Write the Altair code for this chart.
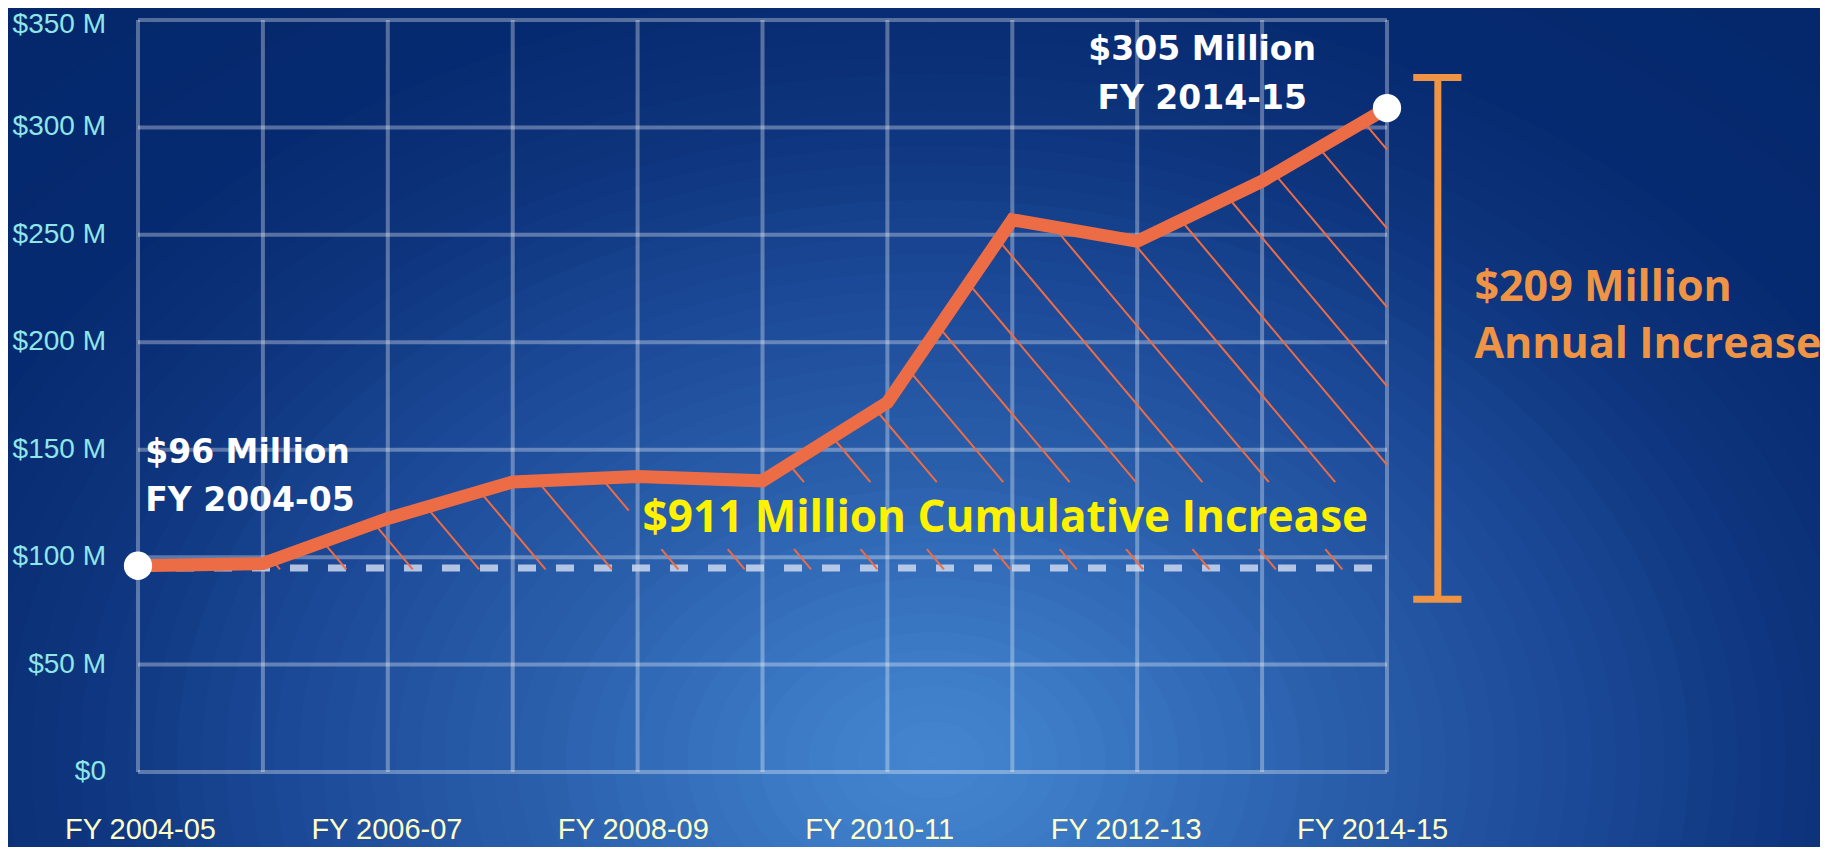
import altair as alt
import pandas as pd
import numpy as np

# ---------------- data ----------------
years = ["FY 2004-05", "FY 2005-06", "FY 2006-07", "FY 2007-08", "FY 2008-09",
         "FY 2009-10", "FY 2010-11", "FY 2011-12", "FY 2012-13", "FY 2013-14",
         "FY 2014-15"]
funding = [96, 97, 118, 135, 137.5, 135.5, 172, 257, 247, 275, 309]   # $ millions
baseline_value = 95            # FY 2004-05 level (dashed reference)
y_ticks = [0, 50, 100, 150, 200, 250, 300, 350]
x_label_ticks = [0, 2, 4, 6, 8, 10]

start_label = ["$96 Million", "FY 2004-05"]
end_label = ["$305 Million", "FY 2014-15"]
cumulative_label = "$911 Million Cumulative Increase"
annual_label = ["$209 Million", "Annual Increase"]
annual_bar = [80.4, 323.2]       # extent of the bracket (value units)

# hatch style (in data units)
HATCH_FOOT0 = 4.326
HATCH_STEP = 0.5316
HATCH_SLOPE = 69.0
HATCH_BASE = 94.3
KNOCK_X = 3.93
KNOCK_Y = [103.7, 134.9]

W, H = 1249, 752
PAD = {"left": 130, "top": 12, "right": 433, "bottom": 75}

idx = list(range(len(years)))
vals = np.array(funding, dtype=float)
n = len(idx) - 1
df = pd.DataFrame({"i": idx, "year": years, "value": funding})

xs = alt.Scale(domain=[0, n], nice=False, zero=False)
ys = alt.Scale(domain=[0, 350], nice=False)

# ---------------- hatch segments ----------------
segs = []
for k in range(-20, 40):
    f = HATCH_FOOT0 + k * HATCH_STEP
    if f < 0:
        continue
    if f > n:
        x0 = float(n)
        v0 = HATCH_BASE + HATCH_SLOPE * (f - n)
    else:
        x0 = f
        v0 = HATCH_BASE
    if v0 >= np.interp(x0, idx, vals):
        continue
    best = 0.0
    for i in range(n):
        m = vals[i + 1] - vals[i]
        xi = (HATCH_BASE + HATCH_SLOPE * f - vals[i] + m * i) / (HATCH_SLOPE + m)
        if i - 1e-9 <= xi <= i + 1 + 1e-9 and xi <= x0 and xi > best:
            best = xi
    x1 = best
    v1 = HATCH_BASE + HATCH_SLOPE * (f - x1)

    vx = HATCH_BASE + HATCH_SLOPE * (f - KNOCK_X)
    lo = max(KNOCK_Y[0], v0)
    hi = min(KNOCK_Y[1], v1, vx)
    if hi > lo:
        if lo > v0:
            segs.append((x0, v0, f - (lo - HATCH_BASE) / HATCH_SLOPE, lo))
        if v1 > hi:
            segs.append((f - (hi - HATCH_BASE) / HATCH_SLOPE, hi, x1, v1))
    else:
        segs.append((x0, v0, x1, v1))
hatch_df = pd.DataFrame(segs, columns=["x", "y", "x2", "y2"]).astype(float)

# ---------------- background glow (elliptical rings) ----------------
glow_r = [0, 120, 300, 480, 650, 800, 1000]
glow_rgb = [(70, 134, 207), (60, 122, 198), (42, 95, 172), (28, 74, 152),
            (14, 52, 125), (6, 42, 112), (5, 40, 108)]
ring_r = np.arange(1100, 0, -18)
ring_cols = []
for r in ring_r:
    c = [int(round(np.interp(r, glow_r, [g[j] for g in glow_rgb]))) for j in range(3)]
    ring_cols.append("#%02x%02x%02x" % tuple(c))
rings = pd.DataFrame({"s": 4.0 * ring_r.astype(float) ** 2, "c": ring_cols,
                      "o": np.arange(len(ring_r))})
ELLIPSE = "M -1.35 0 A 1.35 1 0 1 1 1.35 0 A 1.35 1 0 1 1 -1.35 0 Z"

bg = alt.Chart(pd.DataFrame({"a": [0]})).mark_rect(color="#05286C").encode(
    x=alt.value(-PAD["left"]), x2=alt.value(W + PAD["right"]),
    y=alt.value(-PAD["top"]), y2=alt.value(H + PAD["bottom"]))
glow = alt.Chart(rings).mark_point(filled=True, opacity=1, shape=ELLIPSE,
                                   strokeWidth=0).encode(
    x=alt.value(795), y=alt.value(740),
    size=alt.Size("s:Q", scale=None, legend=None),
    color=alt.Color("c:N", scale=None, legend=None),
    order=alt.Order("o:Q"))

grid_style = dict(color="white", opacity=0.32, strokeWidth=4)
vgrid = alt.Chart(pd.DataFrame({"gx": idx, "y0": 0, "y1": 350})).mark_rule(**grid_style).encode(
    x=alt.X("gx:Q", scale=xs, axis=None),
    y=alt.Y("y0:Q", scale=ys, axis=None), y2="y1:Q")
hgrid = alt.Chart(pd.DataFrame({"gy": y_ticks, "x0": 0, "x1": n})).mark_rule(**grid_style).encode(
    y=alt.Y("gy:Q", scale=ys, axis=None),
    x=alt.X("x0:Q", scale=xs, axis=None), x2="x1:Q")

# axis labels drawn as text through the scales
ylab_df = pd.DataFrame({"v": y_ticks,
                        "t": ["$0" if v == 0 else "$%d M" % v for v in y_ticks]})
ylabels = alt.Chart(ylab_df).transform_calculate(
    vy="min(datum.v, 347.5)").mark_text(
    align="right", baseline="middle", font="Liberation Sans", fontSize=28,
    color="#8FE6E8").encode(
    y=alt.Y("vy:Q", scale=ys, axis=None), x=alt.value(-32), text="t:N")
xlab_df = pd.DataFrame({"i": x_label_ticks, "t": [years[i] for i in x_label_ticks]})
xlabels = alt.Chart(xlab_df).transform_calculate(
    xl="datum.i * 0.9865 + 0.02").mark_text(
    align="center", baseline="middle", font="Liberation Sans", fontSize=29,
    color="#FFFFC8").encode(
    x=alt.X("xl:Q", scale=xs, axis=None), y=alt.value(H + 58), text="t:N")

base_dash = alt.Chart(pd.DataFrame({"b": [baseline_value], "x0": [0], "x1": [n]})).mark_rule(
    color="#CDD8EE", opacity=0.85, strokeWidth=7, strokeDash=[18, 20]).encode(
    y=alt.Y("b:Q", scale=ys, axis=None),
    x=alt.X("x0:Q", scale=xs, axis=None), x2="x1:Q")

hatch = alt.Chart(hatch_df).mark_rule(color="#EC6C45", strokeWidth=2).encode(
    x=alt.X("x:Q", scale=xs, axis=None), x2="x2:Q",
    y=alt.Y("y:Q", scale=ys, axis=None), y2="y2:Q")

line = alt.Chart(df).mark_line(color="#EC6C45", strokeWidth=13,
                               strokeJoin="miter", strokeCap="butt").encode(
    x=alt.X("i:Q", scale=xs, axis=None),
    y=alt.Y("value:Q", scale=ys, axis=None))

ends = alt.Chart(df.iloc[[0, n]]).mark_point(
    filled=True, color="white", opacity=1, size=800, shape="circle").encode(
    x=alt.X("i:Q", scale=xs, axis=None), y=alt.Y("value:Q", scale=ys, axis=None))

white_font = dict(font="DejaVu Sans", fontWeight="bold", fontSize=33,
                  color="white", baseline="alphabetic")
start_txt = alt.Chart(pd.DataFrame({"x": [0.058, 0.058], "y": [143.8, 121.4],
                                    "t": start_label})).mark_text(
    align="left", **white_font).encode(
    x=alt.X("x:Q", scale=xs, axis=None), y=alt.Y("y:Q", scale=ys, axis=None), text="t:N")
end_txt = alt.Chart(pd.DataFrame({"x": [8.52, 8.52], "y": [331.5, 308.7],
                                  "t": end_label})).mark_text(
    align="center", **white_font).encode(
    x=alt.X("x:Q", scale=xs, axis=None), y=alt.Y("y:Q", scale=ys, axis=None), text="t:N")

cum_txt = alt.Chart(pd.DataFrame({"x": [4.04], "y": [111.7], "t": [cumulative_label]})).mark_text(
    align="left", baseline="alphabetic", font="Open Sans", fontWeight="bold",
    fontSize=44, color="#FFF200").encode(
    x=alt.X("x:Q", scale=xs, axis=None), y=alt.Y("y:Q", scale=ys, axis=None), text="t:N")

orange = "#EF9444"
bar_v = alt.Chart(pd.DataFrame({"x": [10.407], "y": [annual_bar[0]], "y2": [annual_bar[1]]})).mark_rule(
    color=orange, strokeWidth=7).encode(
    x=alt.X("x:Q", scale=xs, axis=None),
    y=alt.Y("y:Q", scale=ys, axis=None), y2="y2:Q")
bar_caps = alt.Chart(pd.DataFrame({"x": [10.21, 10.21], "x2": [10.596, 10.596],
                                   "y": annual_bar})).mark_rule(
    color=orange, strokeWidth=7).encode(
    x=alt.X("x:Q", scale=xs, axis=None), x2="x2:Q",
    y=alt.Y("y:Q", scale=ys, axis=None))
annual_txt = alt.Chart(pd.DataFrame({"x": [10.70, 10.70], "y": [219.2, 192.7],
                                     "t": annual_label})).mark_text(
    align="left", baseline="alphabetic", font="Open Sans", fontWeight="bold",
    fontSize=43, color=orange).encode(
    x=alt.X("x:Q", scale=xs, axis=None), y=alt.Y("y:Q", scale=ys, axis=None), text="t:N")

chart = alt.layer(
    bg, glow, vgrid, hgrid, ylabels, xlabels, base_dash, hatch, line, ends,
    start_txt, end_txt, cum_txt, bar_v, bar_caps, annual_txt
).properties(
    width=W, height=H,
    padding=PAD,
    autosize=alt.AutoSizeParams(type="none"),
    background="#05286C",
).configure_view(strokeWidth=0)

chart.save("out.html", embed_options={"renderer": "svg", "actions": False})
